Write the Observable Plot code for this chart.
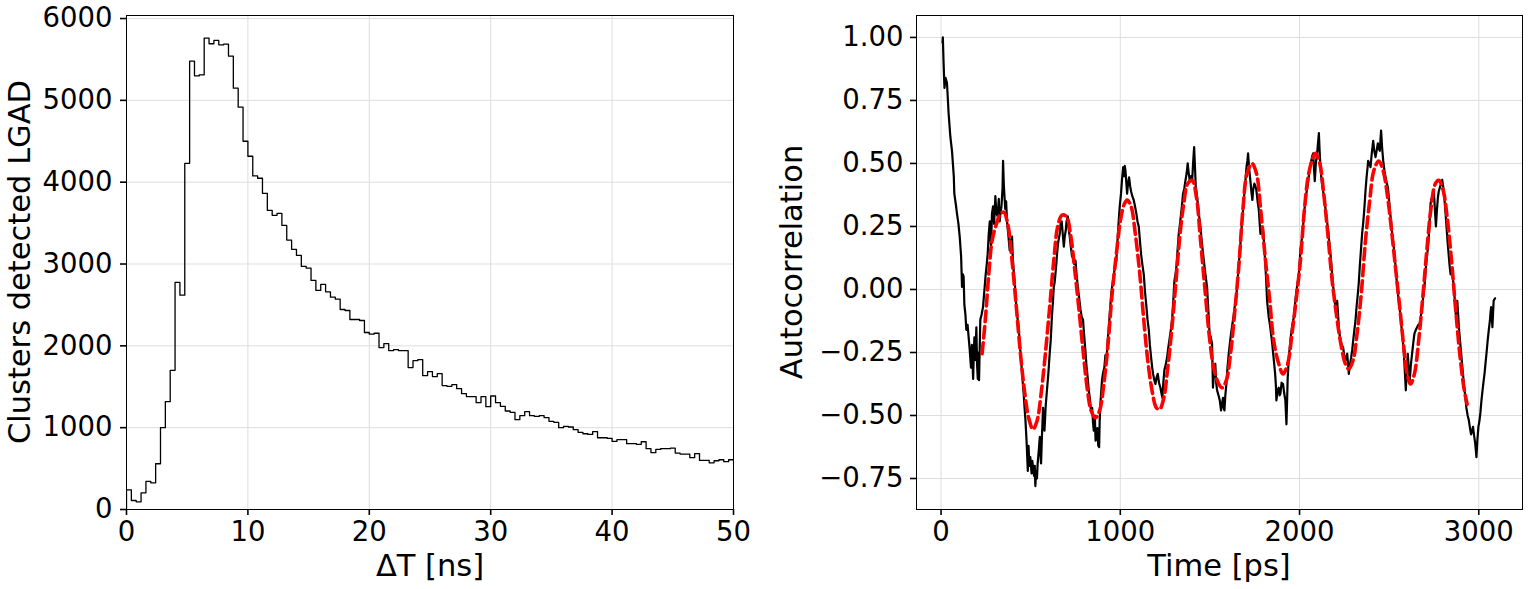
<!DOCTYPE html>
<html>
<head>
<meta charset="utf-8">
<script src="https://cdn.jsdelivr.net/npm/d3@7"></script>
<script src="https://cdn.jsdelivr.net/npm/@observablehq/plot@0.6"></script>
<style>
  html, body { margin: 0; padding: 0; background: white; }
  #wrap { display: flex; flex-direction: row; width: 1528px; height: 589px; }
  svg { display: block; }
</style>
</head>
<body>
<div id="wrap"></div>
<script>
// ---------- Left panel: histogram of ΔT ----------
const binWidth = 0.4; // ns
const histCounts = [
  241, 110, 94, 204, 343, 326, 559, 1000, 1318, 1701,
  2775, 2619, 4231, 5479, 5300, 5312, 5761, 5692, 5732, 5679,
  5688, 5541, 5149, 4917, 4500, 4317, 4076, 4048, 3864, 3656,
  3595, 3619, 3472, 3293, 3179, 3105, 2971, 2950, 2799, 2677,
  2750, 2660, 2595, 2570, 2444, 2432, 2322, 2322, 2310, 2163,
  2142, 2154, 1979, 2028, 1942, 1955, 1942, 1942, 1734, 1820,
  1832, 1636, 1685, 1624, 1661, 1514, 1505, 1526, 1477, 1416,
  1379, 1379, 1306, 1379, 1257, 1387, 1306, 1261, 1204, 1187,
  1098, 1147, 1196, 1147, 1138, 1147, 1122, 1077, 1065, 1000,
  1016, 1008, 975, 942, 926, 918, 951, 877, 877, 869,
  832, 853, 853, 804, 804, 796, 828, 743, 694, 734,
  743, 743, 751, 690, 677, 677, 633, 682, 600, 600,
  571, 596, 608, 584, 608
];
const histXTicks = [0, 10, 20, 30, 40, 50];
const histYTicks = [0, 1000, 2000, 3000, 4000, 5000, 6000];

// ---------- Right panel: autocorrelation ----------
const acTime = [
  8, 10, 14, 19, 25, 33, 42, 52, 61, 71, 74, 82, 89, 97, 104, 112, 117, 122, 126, 130,
  136, 141, 148, 154, 160, 167, 172, 179, 183, 186, 191, 197, 201, 205, 209, 212, 216, 219, 226, 234,
  241, 249, 255, 260, 266, 272, 276, 279, 284, 290, 296, 303, 309, 316, 322, 327, 331, 337, 343, 346,
  350, 353, 358, 363, 368, 375, 383, 389, 396, 400, 405, 412, 420, 426, 433, 440, 446, 452, 457, 461,
  466, 471, 477, 484, 488, 493, 498, 505, 509, 513, 519, 523, 526, 531, 535, 539, 545, 551, 555, 558,
  563, 569, 573, 577, 584, 592, 599, 606, 612, 619, 624, 629, 634, 638, 643, 647, 654, 662, 667, 673,
  679, 685, 690, 696, 700, 707, 712, 718, 724, 731, 738, 744, 750, 756, 763, 770, 778, 785, 792, 798,
  805, 811, 818, 824, 830, 836, 843, 848, 852, 858, 862, 867, 872, 877, 882, 885, 889, 894, 898, 904,
  911, 917, 923, 930, 936, 943, 949, 956, 964, 971, 978, 985, 991, 997, 1004, 1010, 1016, 1021, 1025, 1029,
  1034, 1038, 1043, 1049, 1055, 1060, 1067, 1075, 1082, 1090, 1096, 1103, 1110, 1116, 1123, 1131, 1138, 1146, 1152, 1159,
  1165, 1172, 1178, 1183, 1190, 1196, 1202, 1209, 1216, 1224, 1229, 1235, 1240, 1246, 1253, 1261, 1268, 1276, 1282, 1289,
  1296, 1302, 1308, 1313, 1320, 1326, 1333, 1339, 1345, 1350, 1357, 1363, 1370, 1376, 1382, 1388, 1395, 1401, 1406, 1412,
  1417, 1421, 1428, 1434, 1440, 1447, 1456, 1466, 1475, 1484, 1491, 1498, 1505, 1512, 1517, 1523, 1530, 1535, 1540, 1548,
  1555, 1562, 1568, 1573, 1577, 1581, 1586, 1592, 1598, 1605, 1612, 1618, 1625, 1633, 1640, 1648, 1655, 1661, 1668, 1674,
  1682, 1689, 1697, 1704, 1709, 1713, 1719, 1726, 1731, 1737, 1742, 1748, 1754, 1759, 1766, 1773, 1778, 1782, 1790, 1797,
  1804, 1810, 1815, 1819, 1824, 1828, 1835, 1841, 1847, 1853, 1858, 1864, 1868, 1871, 1878, 1884, 1889, 1893, 1900, 1908,
  1914, 1921, 1927, 1931, 1934, 1938, 1942, 1947, 1953, 1960, 1968, 1976, 1983, 1990, 1996, 2001, 2005, 2011, 2016, 2022,
  2027, 2033, 2038, 2045, 2051, 2058, 2065, 2071, 2076, 2080, 2085, 2091, 2098, 2103, 2108, 2112, 2117, 2122, 2128, 2134,
  2139, 2145, 2150, 2157, 2163, 2170, 2176, 2182, 2188, 2194, 2200, 2205, 2210, 2215, 2219, 2224, 2228, 2236, 2243, 2249,
  2256, 2261, 2266, 2271, 2275, 2281, 2288, 2294, 2299, 2306, 2312, 2318, 2325, 2331, 2336, 2343, 2349, 2356, 2362, 2368,
  2374, 2379, 2383, 2390, 2396, 2403, 2411, 2417, 2424, 2430, 2437, 2442, 2448, 2452, 2455, 2461, 2467, 2474, 2480, 2487,
  2493, 2499, 2504, 2511, 2517, 2524, 2530, 2538, 2545, 2551, 2558, 2564, 2569, 2576, 2582, 2588, 2593, 2598, 2604, 2609,
  2615, 2621, 2628, 2635, 2641, 2649, 2656, 2663, 2671, 2678, 2684, 2690, 2697, 2702, 2708, 2714, 2720, 2726, 2731, 2736,
  2740, 2745, 2749, 2755, 2761, 2766, 2772, 2777, 2783, 2790, 2796, 2803, 2809, 2815, 2820, 2826, 2833, 2838, 2843, 2849,
  2854, 2859, 2864, 2868, 2872, 2876, 2880, 2885, 2889, 2895, 2902, 2910, 2917, 2924, 2931, 2938, 2945, 2951, 2957, 2963,
  2968, 2974, 2980, 2984, 2987, 2992, 2998, 3004, 3009, 3015, 3021, 3026, 3032, 3038, 3043, 3050, 3056, 3062, 3066, 3069,
  3073, 3076, 3080, 3083, 3087, 3091
];
const acValue = [
  0.98, 1.0, 0.90, 0.80, 0.84, 0.82, 0.70, 0.605, 0.55, 0.45, 0.38, 0.34, 0.30, 0.26, 0.21, 0.13, 0.01, 0.06, 0.05, -0.06,
  -0.10, -0.16, -0.14, -0.19, -0.24, -0.31, -0.22, -0.355, -0.25, -0.19, -0.28, -0.15, -0.30, -0.355, -0.25, -0.36, -0.22, -0.12, -0.10, -0.07,
  -0.01, 0.06, 0.10, 0.14, 0.22, 0.27, 0.20, 0.17, 0.30, 0.33, 0.26, 0.37, 0.30, 0.29, 0.36, 0.27, 0.30, 0.33, 0.40, 0.51,
  0.42, 0.38, 0.32, 0.35, 0.27, 0.22, 0.155, 0.19, 0.21, 0.13, 0.075, 0.02, -0.07, -0.11, -0.15, -0.22, -0.28, -0.33, -0.38, -0.415,
  -0.47, -0.52, -0.60, -0.72, -0.62, -0.70, -0.665, -0.73, -0.68, -0.705, -0.74, -0.70, -0.78, -0.72, -0.75, -0.69, -0.64, -0.585, -0.66, -0.69,
  -0.58, -0.47, -0.52, -0.56, -0.46, -0.39, -0.33, -0.255, -0.20, -0.10, -0.05, 0.01, 0.03, 0.06, 0.10, 0.14, 0.19, 0.22, 0.26, 0.27,
  0.22, 0.17, 0.21, 0.235, 0.27, 0.29, 0.24, 0.21, 0.17, 0.13, 0.14, 0.10, 0.115, 0.06, 0.01, -0.03, -0.08, -0.11, -0.12, -0.18,
  -0.24, -0.30, -0.35, -0.40, -0.43, -0.48, -0.47, -0.53, -0.56, -0.50, -0.60, -0.585, -0.55, -0.62, -0.625, -0.52, -0.455, -0.40, -0.36, -0.33,
  -0.31, -0.26, -0.28, -0.20, -0.15, -0.08, -0.02, 0.02, 0.06, 0.09, 0.115, 0.20, 0.27, 0.33, 0.38, 0.44, 0.485, 0.45, 0.49, 0.47,
  0.42, 0.38, 0.42, 0.445, 0.41, 0.39, 0.37, 0.355, 0.33, 0.30, 0.27, 0.25, 0.19, 0.14, 0.10, 0.06, -0.01, -0.07, -0.12, -0.16,
  -0.22, -0.27, -0.31, -0.335, -0.36, -0.375, -0.35, -0.335, -0.37, -0.39, -0.41, -0.43, -0.37, -0.32, -0.30, -0.27, -0.23, -0.19, -0.16, -0.12,
  -0.04, 0.035, 0.06, 0.09, 0.16, 0.22, 0.26, 0.30, 0.34, 0.38, 0.40, 0.43, 0.46, 0.50, 0.46, 0.43, 0.45, 0.43, 0.50, 0.565,
  0.48, 0.41, 0.37, 0.33, 0.29, 0.25, 0.18, 0.115, 0.06, 0.01, -0.08, -0.175, -0.19, -0.215, -0.39, -0.33, -0.295, -0.37, -0.40, -0.42,
  -0.44, -0.48, -0.45, -0.43, -0.47, -0.48, -0.42, -0.375, -0.31, -0.255, -0.21, -0.175, -0.14, -0.10, -0.06, -0.02, 0.04, 0.10, 0.16, 0.22,
  0.29, 0.355, 0.42, 0.485, 0.51, 0.54, 0.48, 0.43, 0.39, 0.355, 0.40, 0.42, 0.41, 0.395, 0.35, 0.315, 0.26, 0.22, 0.24, 0.235,
  0.16, 0.09, 0.02, -0.045, -0.08, -0.11, -0.14, -0.175, -0.21, -0.255, -0.29, -0.335, -0.38, -0.44, -0.40, -0.39, -0.42, -0.415, -0.37, -0.375,
  -0.41, -0.44, -0.535, -0.43, -0.35, -0.30, -0.255, -0.22, -0.175, -0.14, -0.11, -0.05, -0.005, 0.03, 0.06, 0.11, 0.155, 0.19, 0.22, 0.27,
  0.315, 0.35, 0.38, 0.41, 0.445, 0.48, 0.51, 0.53, 0.54, 0.49, 0.43, 0.50, 0.54, 0.58, 0.62, 0.55, 0.485, 0.44, 0.405, 0.38,
  0.355, 0.32, 0.29, 0.25, 0.21, 0.16, 0.115, 0.06, 0.01, -0.03, -0.07, -0.06, -0.045, -0.10, -0.15, -0.18, -0.205, -0.22, -0.23, -0.26,
  -0.28, -0.27, -0.255, -0.30, -0.335, -0.30, -0.27, -0.24, -0.205, -0.16, -0.125, -0.07, -0.02, 0.03, 0.09, 0.16, 0.22, 0.27, 0.325, 0.39,
  0.445, 0.48, 0.51, 0.50, 0.485, 0.54, 0.59, 0.55, 0.525, 0.55, 0.58, 0.56, 0.55, 0.60, 0.63, 0.56, 0.51, 0.47, 0.445, 0.42,
  0.405, 0.36, 0.315, 0.27, 0.22, 0.18, 0.14, 0.07, 0.01, -0.03, -0.07, -0.11, -0.15, -0.20, -0.255, -0.33, -0.40, -0.32, -0.255, -0.31,
  -0.36, -0.30, -0.255, -0.21, -0.175, -0.16, -0.15, -0.14, -0.135, -0.10, -0.07, -0.03, 0.01, 0.06, 0.115, 0.15, 0.195, 0.27, 0.34, 0.36,
  0.355, 0.38, 0.395, 0.32, 0.25, 0.31, 0.365, 0.39, 0.405, 0.42, 0.435, 0.40, 0.355, 0.30, 0.25, 0.19, 0.13, 0.09, 0.06, 0.07,
  0.06, 0.02, -0.02, -0.06, -0.10, -0.07, -0.045, -0.10, -0.15, -0.20, -0.255, -0.32, -0.375, -0.42, -0.47, -0.50, -0.52, -0.55, -0.575, -0.56,
  -0.545, -0.58, -0.61, -0.64, -0.665, -0.60, -0.545, -0.52, -0.49, -0.44, -0.40, -0.37, -0.335, -0.29, -0.255, -0.20, -0.16, -0.125, -0.09, -0.07,
  -0.11, -0.15, -0.09, -0.045, -0.04, -0.035
];
const fitTime = [
  229, 247, 266, 285, 309, 331, 350, 372, 396, 420, 443, 465, 489, 513, 536, 558, 582, 606, 629, 651,
  675, 699, 722, 744, 768, 792, 815, 837, 861, 885, 908, 930, 954, 978, 1001, 1023, 1038, 1060, 1084, 1109,
  1131, 1153, 1177, 1202, 1220, 1243, 1261, 1283, 1308, 1332, 1354, 1376, 1401, 1425, 1447, 1475, 1499, 1521, 1549, 1568,
  1592, 1615, 1637, 1661, 1685, 1707, 1735, 1760, 1782, 1808, 1834, 1856, 1884, 1908, 1934, 1958, 1983, 2005, 2027, 2051,
  2076, 2089, 2113, 2135, 2158, 2182, 2206, 2228, 2256, 2275, 2299, 2321, 2344, 2368, 2392, 2414, 2442, 2467, 2489, 2511,
  2535, 2559, 2582, 2600, 2619, 2641, 2665, 2689, 2712, 2734, 2758, 2777, 2801, 2823, 2846, 2870, 2894, 2917, 2935
];
const fitValue = [
  -0.255, -0.12, 0.06, 0.195, 0.26, 0.30, 0.307, 0.26, 0.115, -0.07, -0.255, -0.40, -0.51, -0.555, -0.52, -0.415, -0.255, -0.07, 0.115, 0.25,
  0.295, 0.29, 0.22, 0.09, -0.07, -0.24, -0.39, -0.48, -0.51, -0.48, -0.375, -0.23, -0.02, 0.14, 0.275, 0.34, 0.355, 0.33, 0.22, 0.06,
  -0.12, -0.28, -0.40, -0.47, -0.475, -0.43, -0.335, -0.19, 0.01, 0.21, 0.34, 0.42, 0.433, 0.365, 0.20, -0.02, -0.20, -0.31, -0.375, -0.39,
  -0.36, -0.255, -0.10, 0.09, 0.325, 0.46, 0.50, 0.46, 0.325, 0.13, -0.045, -0.205, -0.295, -0.335, -0.295, -0.175, -0.03, 0.115, 0.315, 0.46,
  0.525, 0.54, 0.50, 0.38, 0.22, 0.035, -0.10, -0.205, -0.295, -0.315, -0.28, -0.175, -0.02, 0.195, 0.355, 0.47, 0.51, 0.47, 0.38, 0.25,
  0.09, -0.07, -0.23, -0.335, -0.375, -0.335, -0.20, -0.02, 0.17, 0.325, 0.42, 0.433, 0.395, 0.29, 0.13, -0.07, -0.255, -0.39, -0.455
];
const acXTicks = [0, 1000, 2000, 3000];
const acYTicks = [-0.75, -0.5, -0.25, 0, 0.25, 0.5, 0.75, 1.0];

// ---------- Build tables ----------
const histPts = [{x: 0, y: 0}]
  .concat(histCounts.map((c, i) => ({x: i * binWidth, y: c})))
  .concat([{x: histCounts.length * binWidth, y: histCounts[histCounts.length - 1]}]);
const acPts = acTime.map((t, i) => ({t, v: acValue[i]}));
const fitPts = fitTime.map((t, i) => ({t, v: fitValue[i]}));

const FONT = "DejaVu Sans";
const TICKFS = 27.5;
const LABFS = 30.5;
const gridColor = "#dddddd";

const left = Plot.plot({
  width: 764, height: 589,
  marginLeft: 126, marginRight: 31, marginTop: 15, marginBottom: 80,
  style: {fontFamily: FONT, fontSize: TICKFS + "px", color: "black", background: "white", overflow: "visible"},
  x: {domain: [0, 50]},
  y: {domain: [0, 6037]},
  marks: [
    Plot.gridX(histXTicks, {stroke: gridColor, strokeOpacity: 1, strokeWidth: 1}),
    Plot.gridY(histYTicks, {stroke: gridColor, strokeOpacity: 1, strokeWidth: 1}),
    Plot.line(histPts, {x: "x", y: "y", curve: "step-after", stroke: "black", strokeWidth: 1.3, clip: true}),
    Plot.frame({stroke: "black", strokeWidth: 1}),
    Plot.axisX({ticks: histXTicks, tickSize: 6, tickPadding: 6, strokeWidth: 1.6, fontSize: TICKFS, label: null, tickFormat: d => String(d)}),
    Plot.axisY({ticks: histYTicks, tickSize: 6, tickPadding: 8, strokeWidth: 1.6, fontSize: TICKFS, label: null, tickFormat: d => String(d)})
  ]
});

const fmtAc = d => (d < 0 ? "\u2212" : "") + Math.abs(d).toFixed(2);

const right = Plot.plot({
  width: 764, height: 589,
  marginLeft: 152, marginRight: 6, marginTop: 15, marginBottom: 80,
  style: {fontFamily: FONT, fontSize: TICKFS + "px", color: "black", background: "white", overflow: "visible"},
  x: {domain: [-137, 3244]},
  y: {domain: [-0.873, 1.087]},
  marks: [
    Plot.gridX(acXTicks, {stroke: gridColor, strokeOpacity: 1, strokeWidth: 1}),
    Plot.gridY(acYTicks, {stroke: gridColor, strokeOpacity: 1, strokeWidth: 1}),
    Plot.line(acPts, {x: "t", y: "v", stroke: "black", strokeWidth: 2.2, strokeLinejoin: "round"}),
    Plot.line(fitPts, {x: "t", y: "v", stroke: "red", strokeWidth: 3.6, strokeDasharray: "11,5", curve: "catmull-rom"}),
    Plot.frame({stroke: "black", strokeWidth: 1}),
    Plot.axisX({ticks: acXTicks, tickSize: 6, tickPadding: 6, strokeWidth: 1.6, fontSize: TICKFS, label: null, tickFormat: d => String(d)}),
    Plot.axisY({ticks: acYTicks, tickSize: 6, tickPadding: 7, strokeWidth: 1.6, fontSize: TICKFS, label: null, tickFormat: fmtAc})
  ]
});

function addLabel(svg, text, x, y, rotate) {
  const t = d3.select(svg).append("text")
    .attr("text-anchor", "middle")
    .attr("font-family", FONT)
    .attr("font-size", LABFS)
    .attr("fill", "black")
    .text(text);
  if (rotate) t.attr("transform", `translate(${x},${y}) rotate(-90)`);
  else t.attr("x", x).attr("y", y);
}
addLabel(left, "\u0394T [ns]", 430, 576, false);
addLabel(left, "Clusters detected LGAD", 30, 262, true);
addLabel(right, "Time [ps]", 1219 - 764, 576, false);
addLabel(right, "Autocorrelation", 802 - 764, 262, true);

const wrap = document.getElementById("wrap");
wrap.appendChild(left);
wrap.appendChild(right);
</script>
</body>
</html>
